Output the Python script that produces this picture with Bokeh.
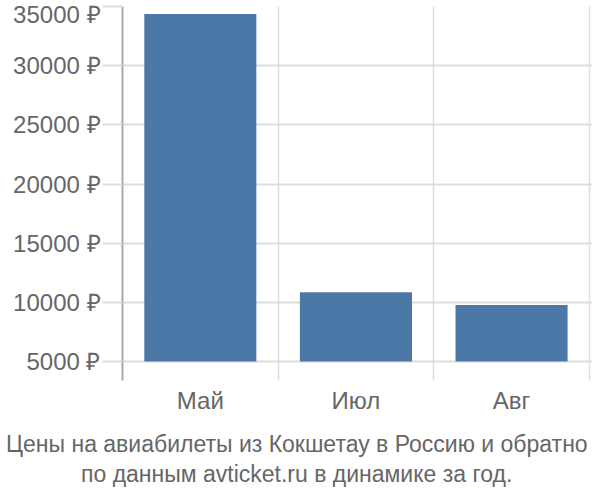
from bokeh.plotting import figure
from bokeh.models import FixedTicker, Title, ColumnDataSource
from bokeh.embed import file_html
from bokeh.resources import INLINE

months = ["Май", "Июл", "Авг"]
prices = [34370, 10850, 9780]
y_ticks = [5000, 10000, 15000, 20000, 25000, 30000, 35000]
y_labels = ["5000 ₽", "10000 ₽", "15000 ₽", "20000 ₽", "25000 ₽", "30000 ₽", "35000 ₽"]
title_lines = ["Цены на авиабилеты из Кокшетау в Россию и обратно",
               "по данным avticket.ru в динамике за год."]

FONT = "Liberation Sans"
TXT = "#666666"
GRID = "#dddddd"
W, H = 592, 492
LEFT = 122
# estimated rendered widths of the caption lines at 23px, used to centre them on the page
caption_widths = [581, 431]
caption_standoffs = [24, -20]

xs = [i + 0.5 for i in range(len(months))]
src = ColumnDataSource(dict(x=xs, top=prices, bottom=[y_ticks[0]] * len(months)))

p = figure(width=W, height=H, output_backend="svg", toolbar_location=None,
           x_range=(0, len(months) + 0.02), y_range=(3400, 35000),
           min_border_left=LEFT, min_border_right=0, min_border_top=6, min_border_bottom=112)
p.outline_line_color = None
p.background_fill_color = "white"

p.vbar(x="x", top="top", bottom="bottom", width=0.72, source=src,
       fill_color="#4C78A8", line_color=None)

# y axis
p.yaxis.ticker = FixedTicker(ticks=y_ticks)
p.yaxis.major_label_overrides = {t: l for t, l in zip(y_ticks, y_labels)}
p.yaxis.major_tick_out = 20
p.yaxis.major_tick_in = 0
p.yaxis.major_tick_line_color = GRID
p.yaxis.major_tick_line_width = 2
p.yaxis.minor_tick_line_color = None
p.yaxis.axis_line_color = "#aaaaaa"
p.yaxis.axis_line_width = 2
p.yaxis.major_label_text_font = FONT
p.yaxis.major_label_text_font_size = "24px"
p.yaxis.major_label_text_color = TXT
p.yaxis.major_label_standoff = 2

# x axis
p.xaxis.ticker = FixedTicker(ticks=xs)
p.xaxis.major_label_overrides = {x: m for x, m in zip(xs, months)}
p.xaxis.axis_line_color = None
p.xaxis.major_tick_line_color = None
p.xaxis.minor_tick_line_color = None
p.xaxis.major_label_text_font = FONT
p.xaxis.major_label_text_font_size = "24px"
p.xaxis.major_label_text_color = TXT
p.xaxis.major_label_standoff = 0

# grids
p.ygrid.ticker = FixedTicker(ticks=y_ticks)
p.ygrid.grid_line_color = GRID
p.ygrid.grid_line_width = 2
p.xgrid.ticker = FixedTicker(ticks=list(range(len(months) + 1)))
p.xgrid.grid_line_color = GRID
p.xgrid.grid_line_width = 1.5

# two-line caption, centred on the full figure width
for line, w, s in zip(title_lines, caption_widths, caption_standoffs):
    p.add_layout(Title(text=line, align="left", offset=(W - w) / 2 - LEFT,
                       text_font=FONT, text_font_size="23px",
                       text_color=TXT, text_font_style="normal", standoff=s), "below")

open("out.html", "w").write(file_html(p, INLINE))
